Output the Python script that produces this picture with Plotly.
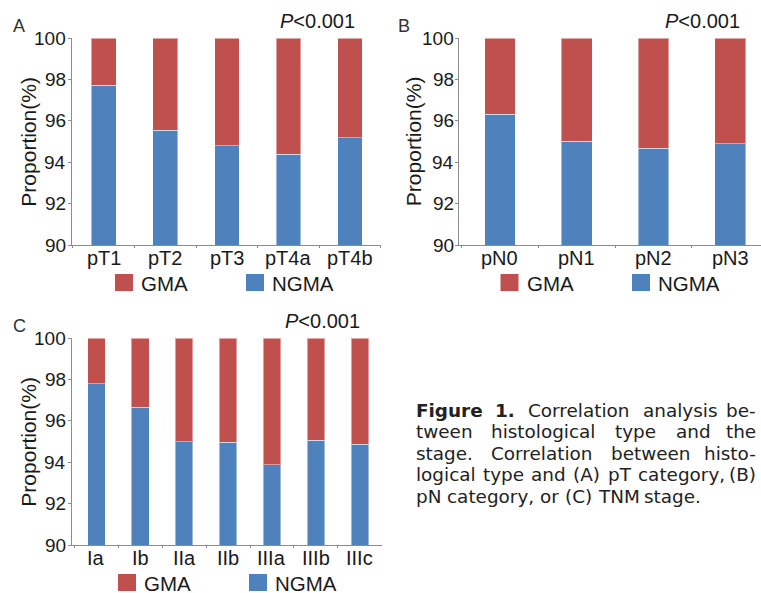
import plotly.graph_objects as go

# ---------------- data ----------------
pT_cats = ["pT1", "pT2", "pT3", "pT4a", "pT4b"]
pT_ngma = [97.74, 95.56, 94.80, 94.39, 95.19]
pT_gma = [2.26, 4.44, 5.20, 5.61, 4.81]

pN_cats = ["pN0", "pN1", "pN2", "pN3"]
pN_ngma = [96.32, 95.02, 94.68, 94.89]
pN_gma = [3.68, 4.98, 5.32, 5.11]

tnm_cats = ["Ia", "Ib", "IIa", "IIb", "IIIa", "IIIb", "IIIc"]
tnm_ngma = [97.79, 96.66, 95.00, 94.98, 93.89, 95.06, 94.87]
tnm_gma = [2.21, 3.34, 5.00, 5.02, 6.11, 4.94, 5.13]

y_ticks = [90, 92, 94, 96, 98, 100]
y_tick_labels = ["90", "92", "94", "96", "98", "100"]
series_names = ["GMA", "NGMA"]
p_text = "<i>P</i>&lt;0.001"
y_title = "Proportion(%)"

caption_lines = [
    ["Figure", "1.", "Correlation", "analysis", "be-"],
    ["tween", "histological", "type", "and", "the"],
    ["stage.", "Correlation", "between", "histo-"],
    ["logical", "type", "and", "(A)", "pT", "category,", "(B)"],
    ["pN", "category,", "or", "(C)", "TNM", "stage."],
]

# ---------------- styling ----------------
W, H = 761, 593
RED = "#C0504D"
BLUE = "#4F81BD"
AXC = "#8c8c8c"
TXT = "#1a1a1a"
FONT = "Liberation Sans, Arial, sans-serif"
CAP_FONT = "DejaVu Sans, sans-serif"


def px(x):
    return x / W


def py(y):
    return 1 - y / H


fig = go.Figure()

panels = [
    dict(cats=pT_cats, ngma=pT_ngma, gma=pT_gma, ax="", xdom=(71.7, 380.7), xr=[-0.52, 4.5],
         ydom=(38.3, 245.0), letter="A", lx=18.5, ly=26, px_=317, ty=29,
         leg=(115, 246)),
    dict(cats=pN_cats, ngma=pN_ngma, gma=pN_gma, ax="2", xdom=(459.3, 761.0), xr=[-0.53, 3.4],
         ydom=(38.3, 245.0), letter="B", lx=403.5, ly=26, px_=702, ty=413.5,
         leg=(500.5, 632)),
    dict(cats=tnm_cats, ngma=tnm_ngma, gma=tnm_gma, ax="3", xdom=(71.7, 381.8), xr=[-0.56, 6.5],
         ydom=(338.3, 545.0), letter="C", lx=19.5, ly=326, px_=322, ty=29,
         leg=(118, 249)),
]

annotations = []
shapes = []

for p in panels:
    xa = "x" + p["ax"]
    ya = "y" + p["ax"]
    fig.add_trace(go.Bar(x=p["cats"], y=p["ngma"], name=series_names[1], marker_color=BLUE,
                         marker_line=dict(color="rgba(255,255,255,0.45)", width=1),
                         width=0.4, xaxis=xa, yaxis=ya, showlegend=False))
    fig.add_trace(go.Bar(x=p["cats"], y=p["gma"], name=series_names[0], marker_color=RED,
                         marker_line=dict(color="rgba(255,255,255,0.45)", width=1),
                         width=0.4, xaxis=xa, yaxis=ya, showlegend=False))

    x0, x1 = p["xdom"]
    ytop, ybot = p["ydom"]
    fig.update_layout(**{
        "xaxis" + p["ax"]: dict(
            domain=[px(x0), px(x1)], range=p["xr"], type="category", anchor=ya,
            showline=True, linecolor=AXC, linewidth=1, ticks="outside", tickson="boundaries",
            ticklen=2, tickcolor=AXC, showticklabels=False,
            showgrid=False, zeroline=False, fixedrange=True),
        "yaxis" + p["ax"]: dict(
            domain=[py(ybot), py(ytop)], range=[90, 100], tickvals=y_ticks, anchor=xa,
            showline=True, linecolor=AXC, linewidth=1, ticks="outside", ticklen=3,
            tickcolor=AXC, showticklabels=False,
            showgrid=False, zeroline=False, fixedrange=True),
    })

    # tick labels placed through the axes' own scales
    for c in p["cats"]:
        annotations.append(dict(text=c, x=c, y=py(ybot + 13), xref=xa, yref="paper",
                                showarrow=False, xanchor="center", yanchor="middle",
                                font=dict(family=FONT, size=20, color=TXT)))
    for v, lab in zip(y_ticks, y_tick_labels):
        annotations.append(dict(text=lab, x=px(x0 - 3.5), y=v, xref="paper", yref=ya,
                                showarrow=False, xanchor="right", yanchor="middle",
                                font=dict(family=FONT, size=19, color=TXT)))

    ymid = (ytop + ybot) / 2
    annotations.append(dict(text=y_title, x=px(p["ty"]), y=py(ymid), xref="paper", yref="paper",
                            textangle=-90, showarrow=False, xanchor="center", yanchor="middle",
                            font=dict(family=FONT, size=21, color=TXT)))
    annotations.append(dict(text=p["letter"], x=px(p["lx"]), y=py(p["ly"]), xref="paper", yref="paper",
                            showarrow=False, xanchor="center", yanchor="middle",
                            font=dict(family=FONT, size=18, color="#333333")))
    annotations.append(dict(text=p_text, x=px(p["px_"]), y=py(ytop - 17),
                            xref="paper", yref="paper", showarrow=False, xanchor="center",
                            yanchor="middle", font=dict(family=FONT, size=20, color=TXT)))

    # legend
    leg_y0 = ybot + 29
    for name, col, lx0 in ((series_names[0], RED, p["leg"][0]), (series_names[1], BLUE, p["leg"][1])):
        shapes.append(dict(type="rect", xref="paper", yref="paper",
                           x0=px(lx0), x1=px(lx0 + 18), y0=py(leg_y0 + 17), y1=py(leg_y0),
                           fillcolor=col, line=dict(width=0)))
        annotations.append(dict(text=name, x=px(lx0 + 24), y=py(leg_y0 + 8.5), xref="paper", yref="paper",
                                showarrow=False, xanchor="left", yanchor="middle", height=20,
                                font=dict(family=FONT, size=20.5, color=TXT)))

# ---------------- caption (justified) ----------------
reg_w = {" ": .318, "(": .390, ")": .390, ",": .318, ".": .318, "-": .361, "1": .636,
         "A": .684, "B": .686, "C": .698, "F": .575, "M": .863, "N": .748, "T": .611,
         "a": .613, "b": .635, "c": .550, "d": .635, "e": .615, "g": .635, "h": .634,
         "i": .278, "l": .278, "n": .634, "o": .612, "p": .635, "r": .411, "s": .521,
         "t": .392, "u": .634, "w": .818, "y": .592}
bold_w = {"F": .683, "i": .343, "g": .716, "u": .712, "r": .493, "e": .678, "1": .696, ".": .381}

CAP_SIZE = 18.4
CAP_L, CAP_R = 413.5, 758.0
line_y = [410, 431.5, 453, 474.5, 496]

for li, words in enumerate(caption_lines):
    bold = [li == 0 and wi < 2 for wi in range(len(words))]
    widths = []
    for w, b in zip(words, bold):
        tbl = bold_w if b else reg_w
        widths.append(sum(tbl.get(ch, reg_w.get(ch, .6)) for ch in w) * CAP_SIZE)
    if li < len(caption_lines) - 1:
        gap = (CAP_R - CAP_L - sum(widths)) / (len(words) - 1)
    else:
        gap = reg_w[" "] * CAP_SIZE
    x = CAP_L
    for wi, (w, b, wd) in enumerate(zip(words, bold, widths)):
        last = (wi == len(words) - 1) and li < len(caption_lines) - 1
        annotations.append(dict(
            text=("<b>%s</b>" % w) if b else w,
            x=px(CAP_R if last else x), y=py(line_y[li]), xref="paper", yref="paper",
            showarrow=False, xanchor="right" if last else "left", yanchor="middle",
            font=dict(family=CAP_FONT, size=CAP_SIZE, color="#222222")))
        x += wd + gap

fig.update_layout(
    width=W, height=H, margin=dict(l=0, r=0, t=0, b=0),
    paper_bgcolor="white", plot_bgcolor="white",
    barmode="stack", showlegend=False,
    annotations=annotations, shapes=shapes,
    font=dict(family=FONT, color=TXT),
)

fig.write_html("out.html", config={"displayModeBar": False},
               post_script="document.body.style.margin='0';document.body.style.overflow='hidden';")
